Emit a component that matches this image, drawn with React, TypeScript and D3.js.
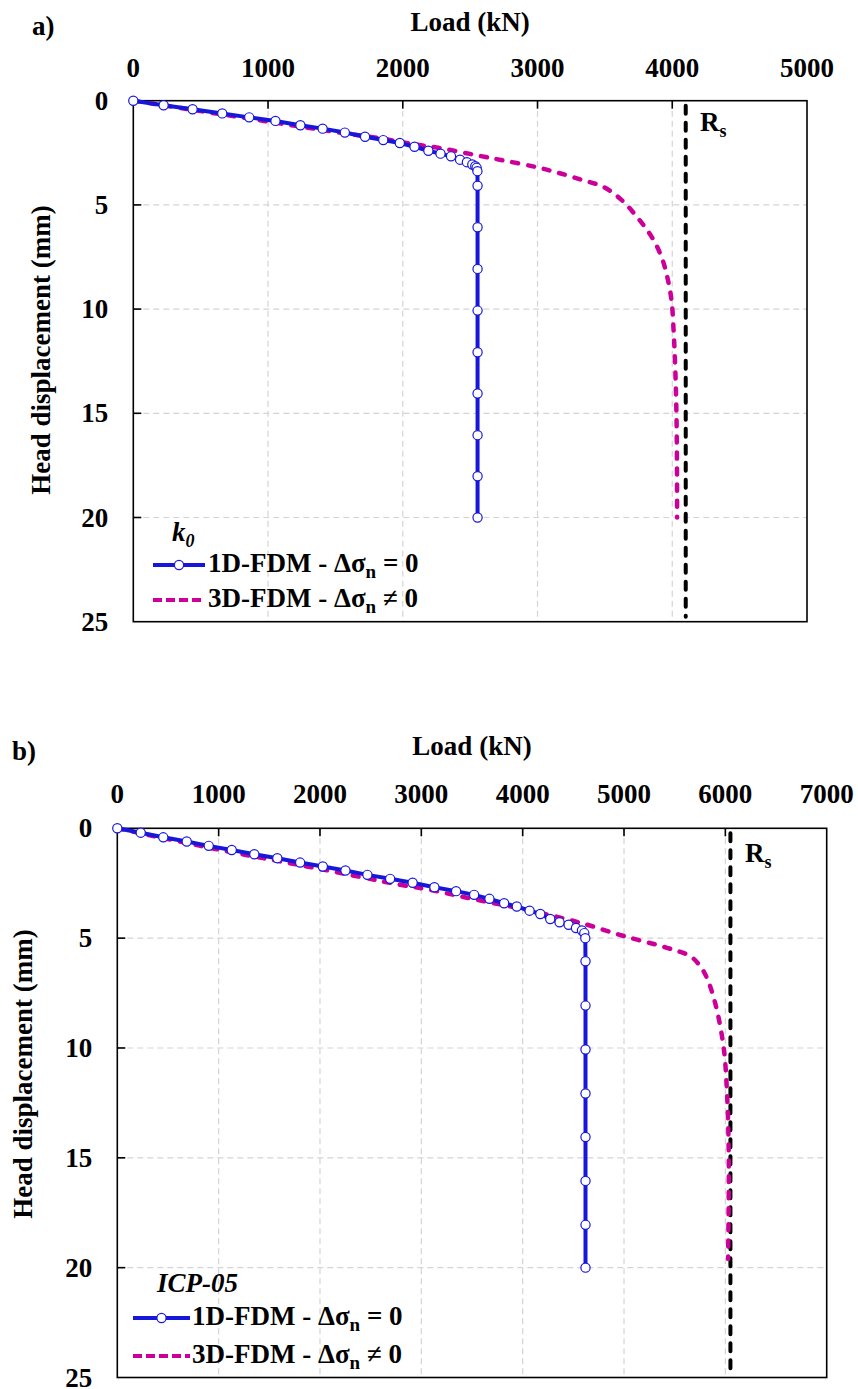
import React from "react";
import * as d3 from "d3";

// ---------- DATA ----------
const xTicksA = [0, 1000, 2000, 3000, 4000, 5000];
const xTicksB = [0, 1000, 2000, 3000, 4000, 5000, 6000, 7000];
const yTicks = [0, 5, 10, 15, 20, 25];

// Panel a (k0): 1D-FDM [load kN, displacement mm]
const fdm1A: [number, number][] = [
  [0, 0], [225, 0.22], [440, 0.41], [660, 0.61], [860, 0.8], [1055, 0.97],
  [1240, 1.18], [1405, 1.34], [1570, 1.53], [1720, 1.73], [1855, 1.89],
  [1978, 2.03], [2087, 2.21], [2190, 2.4], [2280, 2.54], [2358, 2.67],
  [2425, 2.83], [2476, 2.95], [2516, 3.06], [2538, 3.14], [2548, 3.22],
  [2554, 3.38], [2555, 4.08], [2555, 6.07], [2555, 8.07], [2555, 10.07],
  [2555, 12.07], [2555, 14.05], [2555, 16.05], [2555, 18.02], [2555, 20],
];
// Panel a: 3D-FDM
const fdm3A: [number, number][] = [
  [0, 0], [500, 0.5], [1000, 1.0], [1500, 1.5], [1829, 1.8], [2077, 2.08],
  [2300, 2.3], [2572, 2.65], [2757, 2.88], [3000, 3.2], [3165, 3.48],
  [3340, 3.82], [3487, 4.13], [3623, 4.76], [3746, 5.64], [3846, 6.52],
  [3920, 7.49], [3962, 8.44], [3994, 9.56], [4011, 11.16], [4023, 13],
  [4031, 15], [4035, 17.5], [4036, 20],
];
const rsA = 4100;

// Panel b (ICP-05): 1D-FDM
const fdm1B: [number, number][] = [
  [0, 0], [231, 0.2], [454, 0.41], [685, 0.6], [902, 0.8], [1129, 0.99],
  [1352, 1.18], [1579, 1.36], [1804, 1.56], [2028, 1.74], [2251, 1.92],
  [2468, 2.12], [2692, 2.3], [2914, 2.48], [3129, 2.68], [3343, 2.86],
  [3521, 3.03], [3672, 3.21], [3817, 3.41], [3942, 3.56], [4068, 3.75],
  [4174, 3.9], [4272, 4.13], [4364, 4.28], [4453, 4.39], [4526, 4.54],
  [4585, 4.65], [4608, 4.77], [4618, 5.0], [4620, 6.05], [4620, 8.07],
  [4620, 10.07], [4620, 12.07], [4620, 14.05], [4620, 16.05], [4620, 18.05],
  [4620, 20],
];
// Panel b: 3D-FDM
const fdm3B: [number, number][] = [
  [0, 0], [1000, 0.97], [2000, 1.85], [2791, 2.57], [3087, 2.8],
  [3448, 3.16], [3942, 3.62], [4174, 3.85], [4569, 4.3], [5002, 4.91],
  [5424, 5.44], [5652, 5.82], [5751, 6.27], [5817, 6.8], [5901, 7.98],
  [5983, 9.97], [6017, 12.1], [6033, 14.7], [6033, 16.9], [6027, 19.6],
];
const rsB = 6050;

// ---------- STYLE ----------
const FONT = "'Liberation Serif', 'Times New Roman', Times, serif";
const BLUE = "#1717dc";
const MAGENTA = "#cc0099";
const GRID = "#d4d4d4";

type PanelProps = {
  left: number; right: number; top: number; bottom: number;
  xMax: number; xTicks: number[];
  fdm1: [number, number][]; fdm3: [number, number][]; rs: number;
  tag: string; tagX: number; tagY: number;
  titleY: number; tickLabelY: number;
  yTitleX: number; yTitleCY: number;
  legendLabel: string; legendLabelX: number; legendLabelY: number;
  legLineX0: number; legLineX1: number; leg1Y: number; leg2Y: number;
  legTextX: number;
  rsLabelX: number; rsLabelY: number;
};

function Panel(p: PanelProps) {
  const x = d3.scaleLinear().domain([0, p.xMax]).range([p.left, p.right]);
  const y = d3.scaleLinear().domain([0, 25]).range([p.top, p.bottom]);
  const line1 = d3.line<[number, number]>().x(d => x(d[0])).y(d => y(d[1]));
  const line3 = d3
    .line<[number, number]>()
    .x(d => x(d[0]))
    .y(d => y(d[1]))
    .curve(d3.curveCatmullRom.alpha(0.5));
  const fs = 27;
  const legMid = (p.legLineX0 + p.legLineX1) / 2;
  return (
    <g fontFamily={FONT} fontWeight="bold" fill="#000">
      {/* gridlines */}
      {p.xTicks.slice(1, -1).map(t => (
        <line key={"gx" + t} x1={x(t)} x2={x(t)} y1={p.top} y2={p.bottom}
          stroke={GRID} strokeWidth={1.2} strokeDasharray="6,4" />
      ))}
      {yTicks.slice(1, -1).map(t => (
        <line key={"gy" + t} x1={p.left} x2={p.right} y1={y(t)} y2={y(t)}
          stroke={GRID} strokeWidth={1.2} strokeDasharray="6,4" />
      ))}
      {/* frame */}
      <rect x={p.left} y={p.top} width={p.right - p.left} height={p.bottom - p.top}
        fill="none" stroke="#000" strokeWidth={1.6} />
      {/* ticks */}
      {p.xTicks.slice(1, -1).map(t => (
        <line key={"tx" + t} x1={x(t)} x2={x(t)} y1={p.top} y2={p.top + 8}
          stroke="#000" strokeWidth={1.6} />
      ))}
      {yTicks.slice(1, -1).map(t => (
        <line key={"ty" + t} x1={p.left} x2={p.left + 8} y1={y(t)} y2={y(t)}
          stroke="#000" strokeWidth={1.6} />
      ))}
      {/* tick labels */}
      {p.xTicks.map(t => (
        <text key={"lx" + t} x={x(t)} y={p.tickLabelY} fontSize={fs} textAnchor="middle">{t}</text>
      ))}
      {yTicks.map(t => (
        <text key={"ly" + t} x={p.left - 25} y={y(t)} dy="0.34em" fontSize={fs} textAnchor="end">{t}</text>
      ))}
      {/* titles */}
      <text x={(p.left + p.right) / 2} y={p.titleY} fontSize={fs} textAnchor="middle">Load (kN)</text>
      <text transform={`translate(${p.yTitleX},${p.yTitleCY}) rotate(-90)`} fontSize={fs} textAnchor="middle">
        Head displacement (mm)
      </text>
      <text x={p.tagX} y={p.tagY} fontSize={fs}>{p.tag}</text>
      {/* Rs line */}
      <line x1={x(p.rs)} x2={x(p.rs)} y1={p.top + 5} y2={p.bottom - 5}
        stroke="#000" strokeWidth={4} strokeDasharray="8,9" strokeLinecap="round" />
      <text x={p.rsLabelX} y={p.rsLabelY} fontSize={fs}>
        R<tspan fontSize={18} dy={6}>s</tspan>
      </text>
      {/* series */}
      <path d={line3(p.fdm3) || ""} fill="none" stroke={MAGENTA} strokeWidth={4.5}
        strokeDasharray="6,10" strokeLinecap="round" />
      <path d={line1(p.fdm1) || ""} fill="none" stroke={BLUE} strokeWidth={4} />
      {p.fdm1.map((d, i) => (
        <circle key={"c" + i} cx={x(d[0])} cy={y(d[1])} r={4.6} fill="#fff" stroke={BLUE} strokeWidth={1.2} />
      ))}
      {/* legend */}
      <text x={p.legendLabelX} y={p.legendLabelY} fontSize={fs} fontStyle="italic">
        {p.legendLabel.length === 2 ? (
          <>k<tspan fontSize={18} dy={6}>0</tspan></>
        ) : p.legendLabel}
      </text>
      <line x1={p.legLineX0} x2={p.legLineX1} y1={p.leg1Y} y2={p.leg1Y} stroke={BLUE} strokeWidth={4} />
      <circle cx={legMid} cy={p.leg1Y} r={4.6} fill="#fff" stroke={BLUE} strokeWidth={1.2} />
      <text x={p.legTextX} y={p.leg1Y + 7} fontSize={fs}>
        1D-FDM - Δσ<tspan fontSize={19} dy={6}>n</tspan><tspan dy={-6}> = 0</tspan>
      </text>
      <line x1={p.legLineX0} x2={p.legLineX1} y1={p.leg2Y} y2={p.leg2Y} stroke={MAGENTA} strokeWidth={4}
        strokeDasharray="9,4" />
      <text x={p.legTextX} y={p.leg2Y + 7} fontSize={fs}>
        3D-FDM - Δσ<tspan fontSize={19} dy={6}>n</tspan><tspan dy={-6}> ≠ 0</tspan>
      </text>
    </g>
  );
}

export default function App() {
  return (
    <svg width={858} height={1389} style={{ position: "absolute", left: 0, top: 0, background: "#fff" }}>
      <rect width={858} height={1389} fill="#fff" />
      <Panel
        left={133.3} right={807} top={100.7} bottom={621.7}
        xMax={5000} xTicks={xTicksA}
        fdm1={fdm1A} fdm3={fdm3A} rs={rsA}
        tag="a)" tagX={32} tagY={35}
        titleY={31} tickLabelY={77}
        yTitleX={50} yTitleCY={350}
        legendLabel="k0" legendLabelX={172} legendLabelY={541}
        legLineX0={153} legLineX1={205} leg1Y={565} leg2Y={600}
        legTextX={208}
        rsLabelX={700} rsLabelY={131}
      />
      <Panel
        left={117.3} right={826.7} top={828.3} bottom={1377.5}
        xMax={7000} xTicks={xTicksB}
        fdm1={fdm1B} fdm3={fdm3B} rs={rsB}
        tag="b)" tagX={12} tagY={760}
        titleY={755} tickLabelY={803}
        yTitleX={32} yTitleCY={1074}
        legendLabel="ICP-05" legendLabelX={157} legendLabelY={1292}
        legLineX0={133} legLineX1={190} leg1Y={1318} leg2Y={1356}
        legTextX={192}
        rsLabelX={745} rsLabelY={862}
      />
    </svg>
  );
}
